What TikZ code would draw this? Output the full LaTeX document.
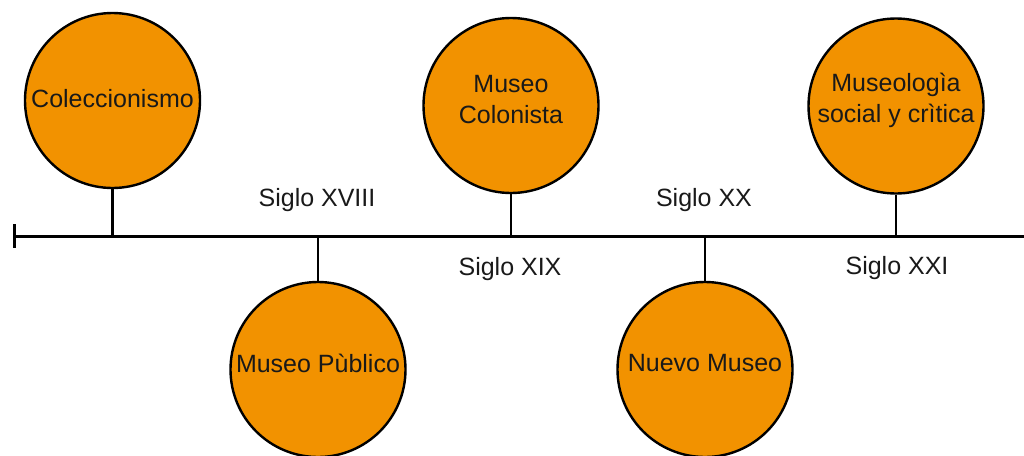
\documentclass[tikz,border=0pt]{standalone}
\usepackage{fontspec}
\setmainfont{Liberation Sans}
\definecolor{museo}{RGB}{242,146,0}
\begin{document}
\begin{tikzpicture}[x=1pt,y=-1pt,
  bubble/.style={circle, draw=black, line width=2.4pt, fill=museo, minimum size=175pt, inner sep=0pt},
  btext/.style={font=\fontsize{25}{31}\selectfont, align=center, inner sep=0pt, text=black!90},
  siglo/.style={font=\fontsize{25}{31}\selectfont, inner sep=0pt, text=black!90},
  tline/.style={line width=3pt, black},
  stem/.style={line width=2.6pt, black}]
\useasboundingbox (0,0) rectangle (1024,455);
\clip (0,0) rectangle (1024,455);
\coordinate (tl) at (14,236);
\coordinate (tr) at (1030,236);
% circles
\node[bubble, label={[btext, yshift=2pt]center:Coleccionismo}] (c1) at (112.5,100.5) {};
\node[bubble, label={[btext, yshift=6pt]center:Museo Pùblico}] (c2) at (318,369.5) {};
\node[bubble, label={[btext, yshift=6pt]center:Museo\\Colonista}] (c3) at (511,105.5) {};
\node[bubble, label={[btext, yshift=6pt]center:Nuevo Museo}] (c4) at (705,369.5) {};
\node[bubble, label={[btext, yshift=6pt]center:Museologìa\\social y crìtica}] (c5) at (896,106) {};
% timeline
\draw[tline] (tl) -- (tr);
\draw[tline] ([yshift=12pt]tl) -- ([yshift=-12pt]tl);
% stems
\draw[stem] (c1.south) -- (c1.south |- tl);
\draw[stem] (c2.north) -- (c2.north |- tl);
\draw[stem] (c3.south) -- (c3.south |- tl);
\draw[stem] (c4.north) -- (c4.north |- tl);
\draw[stem] (c5.south) -- (c5.south |- tl);
% century labels
\node[siglo] (s18) at (317,200) {Siglo XVIII};
\node[siglo] (s19) at (510,269) {Siglo XIX};
\node[siglo] (s20) at (704,200) {Siglo XX};
\node[siglo] (s21) at (897,268) {Siglo XXI};
\end{tikzpicture}
\end{document}
